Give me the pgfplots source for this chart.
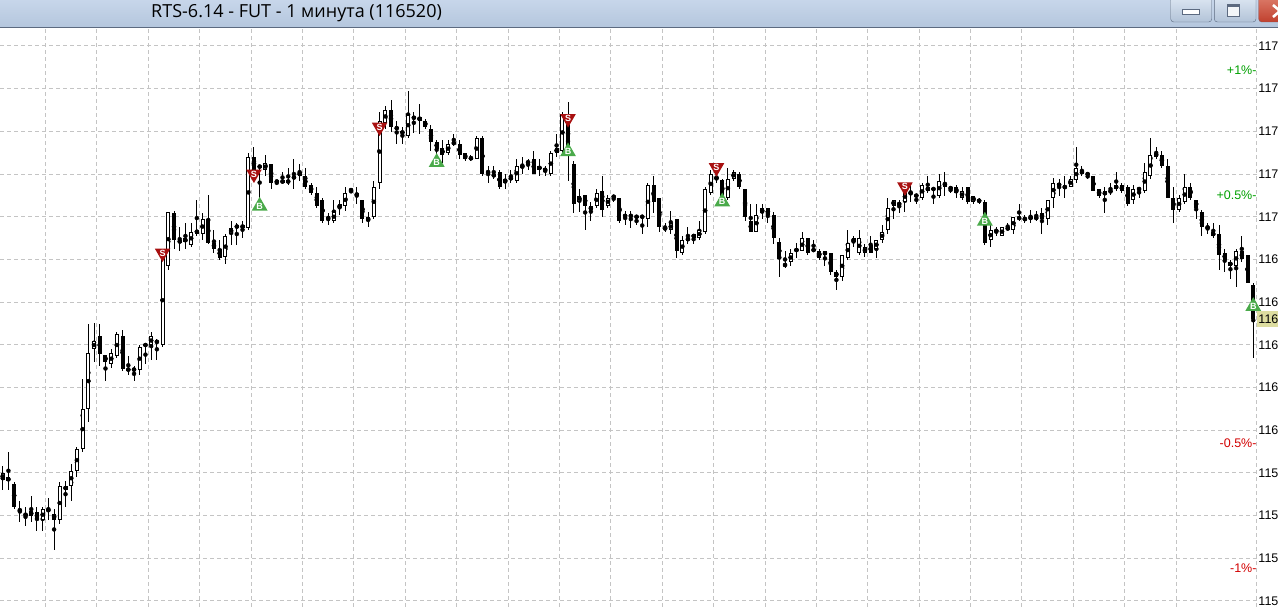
\documentclass[border=0pt]{standalone}
\usepackage{pgfplots}
\pgfplotsset{compat=1.18}
\usepackage{pgfplotstable}
\usetikzlibrary{shapes.geometric}
\usepackage{fontspec}
\setmainfont{Liberation Sans}
\newfontfamily\titlefont{Open Sans}

\definecolor{gridc}{RGB}{196,196,196}
\definecolor{sellred}{RGB}{168,16,16}
\definecolor{buygreen}{RGB}{74,170,74}
\definecolor{pctgreen}{RGB}{0,160,0}
\definecolor{pctred}{RGB}{210,0,0}
\definecolor{lastbox}{RGB}{221,221,160}
\definecolor{bartop}{RGB}{199,214,234}
\definecolor{barbot}{RGB}{180,198,221}
\definecolor{btntop}{RGB}{224,233,244}
\definecolor{btnbot}{RGB}{178,195,216}
\definecolor{btnframe}{RGB}{92,106,128}
\definecolor{closetop}{RGB}{222,128,110}
\definecolor{closebot}{RGB}{192,64,46}

% one-minute candles: open high low close
\pgfplotstableread{
o h l c
115770 115830 115720 115800
115780 115900 115720 115760
115750 115760 115630 115640
115630 115670 115570 115620
115610 115640 115550 115600
115600 115690 115570 115620
115620 115640 115530 115580
115580 115640 115530 115630
115630 115680 115580 115620
115610 115630 115440 115580
115580 115760 115560 115740
115720 115760 115640 115740
115740 115840 115670 115810
115810 115920 115780 115910
115910 116240 115900 116100
116100 116500 116040 116360
116380 116500 116320 116420
116440 116500 116300 116360
116350 116350 116230 116320
116310 116380 116290 116360
116350 116460 116340 116450
116440 116470 116280 116290
116290 116350 116260 116280
116290 116300 116230 116280
116280 116400 116260 116390
116400 116400 116310 116400
116400 116460 116330 116440
116420 116430 116330 116410
116400 116830 116390 116820
116770 117020 116750 117020
117020 117030 116850 116890
116890 116950 116840 116880
116900 116970 116850 116880
116870 116970 116860 116930
116940 117080 116910 116920
116920 117020 116890 116990
116990 117100 116870 116880
116880 116940 116830 116850
116850 116890 116800 116810
116810 116920 116780 116910
116920 116980 116870 116950
116960 116970 116870 116950
116960 116980 116900 116950
116950 117300 116940 117280
117280 117330 117190 117220
117230 117240 117080 117240
117220 117290 117190 117250
117250 117250 117130 117160
117160 117170 117150 117170
117170 117210 117160 117160
117160 117230 117150 117170
117180 117270 117130 117190
117210 117250 117170 117190
117190 117230 117130 117140
117150 117160 117100 117110
117110 117140 117040 117050
117080 117090 116970 116980
117000 117020 116960 116990
116980 117080 116970 117020
117040 117080 117010 117060
117050 117140 117030 117110
117120 117130 117110 117130
117110 117140 117060 117100
117080 117080 116970 116990
116980 117020 116950 117000
117000 117170 116990 117140
117160 117490 117130 117450
117440 117520 117410 117500
117500 117550 117400 117420
117420 117450 117340 117410
117400 117420 117340 117390
117380 117590 117370 117480
117470 117490 117390 117460
117450 117530 117390 117470
117450 117460 117410 117420
117410 117430 117310 117350
117350 117360 117270 117320
117320 117360 117250 117290
117300 117360 117290 117340
117340 117390 117330 117350
117340 117360 117270 117290
117300 117300 117260 117270
117270 117290 117260 117280
117270 117380 117270 117370
117370 117380 117190 117200
117210 117240 117160 117210
117200 117240 117180 117190
117210 117220 117130 117140
117160 117200 117130 117180
117190 117220 117160 117170
117170 117270 117160 117240
117230 117280 117200 117240
117260 117270 117220 117250
117270 117310 117200 117200
117220 117270 117190 117240
117230 117240 117190 117210
117200 117310 117190 117300
117300 117390 117280 117320
117310 117490 117300 117480
117480 117540 117170 117300
117250 117260 117020 117060
117070 117130 117020 117100
117100 117100 116940 117050
117050 117070 116980 117030
117050 117130 117040 117110
117120 117190 117000 117030
117050 117100 117040 117090
117100 117100 117070 117090
117090 117090 116970 116980
117000 117030 116960 117010
117010 117030 116950 117000
117000 117000 116960 117000
117000 117000 116920 117000
116990 117160 116950 117150
117150 117190 117020 117070
117090 117090 116930 116950
116950 116970 116930 116940
116940 117030 116920 116970
116990 116990 116810 116840
116830 116910 116820 116890
116890 116950 116870 116900
116920 116920 116870 116900
116900 116980 116890 116940
116930 117140 116920 117130
117110 117220 117100 117200
117180 117210 117160 117180
117170 117180 117090 117090
117090 117230 117080 117180
117180 117220 117170 117210
117200 117210 117130 117140
117130 117130 116980 117000
116980 117060 116930 116930
116930 117060 116930 117010
117020 117060 116990 117040
117040 117040 116970 117010
117010 117020 116870 116900
116880 116900 116720 116800
116780 116840 116760 116770
116790 116850 116770 116830
116840 116880 116810 116850
116840 116930 116840 116900
116900 116900 116820 116830
116850 116890 116840 116840
116840 116850 116800 116810
116820 116840 116770 116840
116830 116830 116730 116740
116740 116750 116660 116720
116720 116820 116700 116820
116810 116940 116800 116880
116880 116910 116860 116900
116830 116940 116820 116900
116830 116870 116810 116860
116870 116910 116830 116830
116850 116890 116810 116890
116890 116960 116880 116930
116940 117090 116920 117040
117050 117080 116990 117080
117060 117080 117020 117060
117070 117130 117020 117120
117110 117160 117070 117110
117100 117100 117060 117100
117090 117160 117080 117150
117140 117190 117110 117120
117130 117130 117060 117130
117100 117200 117090 117170
117160 117210 117100 117140
117130 117140 117110 117140
117140 117150 117090 117110
117090 117140 117080 117120
117140 117140 117060 117070
117070 117100 117060 117100
117080 117090 117060 117070
117070 117080 116870 116880
116890 116970 116860 116940
116930 116950 116910 116940
116910 116950 116910 116950
116950 116970 116940 116940
116940 117000 116920 117000
117000 117060 116980 116990
116990 117010 116970 116990
116990 117030 116970 117000
117000 117030 116980 116990
117020 117040 116920 116990
116990 117080 116960 117080
117090 117180 117040 117160
117160 117180 117100 117140
117140 117190 117090 117140
117140 117190 117140 117180
117170 117330 117160 117230
117220 117240 117190 117200
117200 117200 117180 117200
117190 117190 117120 117120
117130 117130 117090 117100
117100 117140 117020 117120
117120 117160 117100 117120
117130 117210 117120 117150
117150 117160 117110 117120
117140 117150 117050 117060
117080 117150 117060 117130
117130 117140 117090 117130
117120 117250 117110 117210
117190 117370 117180 117290
117280 117330 117270 117300
117290 117310 117230 117240
117240 117270 117090 117090
117090 117140 116970 117030
117030 117100 117020 117090
117070 117200 117060 117140
117140 117160 117080 117090
117080 117080 116990 117040
117020 117030 116910 116950
116950 116970 116920 116950
116930 116970 116900 116910
116920 116960 116750 116820
116830 116850 116740 116800
116790 116800 116710 116770
116770 116850 116670 116840
116840 116910 116790 116800
116820 116820 116690 116690
116680 116690 116340 116520
}\candles

\begin{document}
\begin{tikzpicture}[x=1pt,y=1pt]
% window title bar
\shade[top color=bartop, bottom color=barbot] (0,579) rectangle (1278,607);
\draw[line width=1pt, color=btnframe] (0,579.5) -- (1278,579.5);
\node[anchor=west, inner sep=0pt, font=\titlefont\fontsize{18}{20}\selectfont]
  at (151,594) {RTS-6.14 - FUT - 1 минута (116520)};
% caption buttons
\shade[top color=btntop, bottom color=btnbot, draw=btnframe, rounded corners=3pt]
  (1170.7,612) rectangle (1211.7,585);
\draw[fill=white, draw=btnframe, line width=0.8pt] (1182,592.3) rectangle (1199,597.5);
\shade[top color=btntop, bottom color=btnbot, draw=btnframe, rounded corners=3pt]
  (1214.3,612) rectangle (1256,585);
\draw[fill=white!85!btnbot, draw=btnframe, line width=1pt] (1227,590.5) rectangle (1239,602);
\draw[btnframe, line width=2pt] (1227,601.3) -- (1239,601.3);
\shade[top color=closetop, bottom color=closebot, draw=btnframe!60!closebot, rounded corners=3pt]
  (1258.7,612) rectangle (1300,585);
\draw[white, line width=2.6pt] (1273,602) -- (1287,590) (1273,590) -- (1287,602);

\begin{axis}[
  at={(0pt,0pt)}, anchor=south west, scale only axis,
  width=1256.7pt, height=579pt,
  xmin=-0.473, xmax=219.6, ymin=115171.7, ymax=117884.3,
  axis line style={draw=none},
  xtick={7.5,16.5,...,205.5,219.6}, xticklabels={},
  ytick={115200,115400,115600,115800,116000,116200,116400,116600,116800,117000,117200,117400,117600,117800},
  yticklabels={115,115,115,115,116,116,116,116,116,117,117,117,117,117},
  scaled y ticks=false,
  yticklabel pos=right,
  major tick length=0pt,
  yticklabel style={anchor=west, inner sep=0pt, xshift=1.6pt, font=\fontsize{12.5}{14}\selectfont},
  grid=major,
  grid style={gridc, line width=1pt, dash pattern=on 4pt off 3pt},
  clip mode=individual,
]
% wicks
\addplot[only marks, mark=none, error bars/.cd, y dir=both, y explicit, error mark=none,
  error bar style={line width=1pt, black}]
  table[x expr=\coordindex, y expr={(\thisrow{h}+\thisrow{l})/2},
        y error expr={(\thisrow{h}-\thisrow{l})/2}] {\candles};
% bodies
\addplot[only marks, mark=none, error bars/.cd, y dir=both, y explicit, error mark=none,
  error bar style={line width=4pt, black}]
  table[x expr=\coordindex, y expr={(\thisrow{o}+\thisrow{c})/2},
        y error expr={max(abs(\thisrow{c}-\thisrow{o})/2,2.5)}] {\candles};
% hollow inside of rising candles
\addplot[only marks, mark=none, error bars/.cd, y dir=both, y explicit, error mark=none,
  error bar style={line width=2pt, white}]
  table[x expr=\coordindex, y expr={(\thisrow{o}+\thisrow{c})/2},
        y error expr={max((\thisrow{c}-\thisrow{o})/2-4.7,0)}] {\candles};
% sell / buy signals
\addplot[only marks, mark=none, nodes near coords={S},
  every node near coord/.append style={anchor=center, regular polygon, regular polygon sides=3,
    shape border rotate=180, fill=sellred, text=white, inner sep=0pt, minimum size=13.5pt,
    font=\bfseries\fontsize{9}{9}\selectfont}]
  coordinates {(28,116830) (44,117200) (66,117420) (99,117460) (125,117230) (158,117140)};
\addplot[only marks, mark=none, nodes near coords={B},
  every node near coord/.append style={anchor=center, regular polygon, regular polygon sides=3,
    fill=buygreen, text=white, inner sep=0pt, minimum size=13.5pt,
    font=\bfseries\fontsize{9}{9}\selectfont}]
  coordinates {(45,117050) (76,117255) (99,117305) (126,117070) (172,116980) (219,116580)};
% percent levels from the last price
\node[anchor=east, inner sep=0pt, text=pctgreen, font=\fontsize{12.5}{14}\selectfont]
  at (axis cs:219.6,117685) {+1\%-};
\node[anchor=east, inner sep=0pt, text=pctgreen, font=\fontsize{12.5}{14}\selectfont]
  at (axis cs:219.6,117103) {+0.5\%-};
\node[anchor=east, inner sep=0pt, text=pctred, font=\fontsize{12.5}{14}\selectfont]
  at (axis cs:219.6,115937) {-0.5\%-};
\node[anchor=east, inner sep=0pt, text=pctred, font=\fontsize{12.5}{14}\selectfont]
  at (axis cs:219.6,115355) {-1\%-};
% last price
\node[anchor=west, fill=lastbox, inner xsep=1.6pt, inner ysep=0pt, minimum height=16pt,
  minimum width=22pt, align=left, font=\fontsize{12.5}{14}\selectfont]
  at (axis cs:219.6,116520) {116\hspace{2pt}};
\end{axis}
\pgfresetboundingbox
\useasboundingbox (0,0) rectangle (1278,607);
\end{tikzpicture}
\end{document}
